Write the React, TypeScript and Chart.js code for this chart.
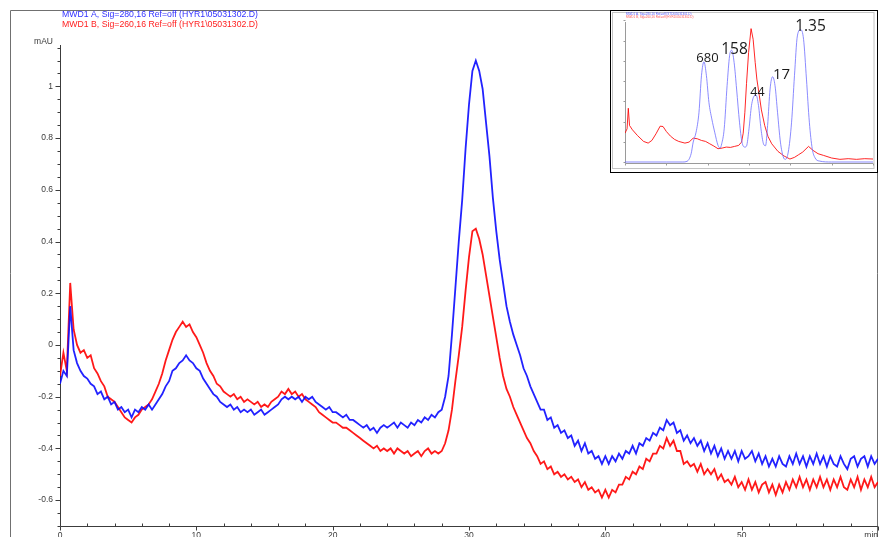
import React, { useEffect, useRef } from "react";
import { Chart, registerables } from "chart.js";

Chart.register(...registerables);

// ---------- main chromatogram data (sampled every 0.25 min, 0..60 min) ----------
const sampleStep = 0.25;

// MWD1 A, 280 nm (blue)
const signalA280 = [
  -0.15, -0.10, -0.12, 0.15, -0.02, -0.07, -0.10, -0.12, -0.13, -0.15,
  -0.16, -0.19, -0.18, -0.21, -0.20, -0.23, -0.22, -0.25, -0.24, -0.26,
  -0.25, -0.28, -0.25, -0.26, -0.24, -0.25, -0.23, -0.25, -0.23, -0.21,
  -0.19, -0.16, -0.14, -0.10, -0.09, -0.07, -0.06, -0.04, -0.06, -0.07,
  -0.09, -0.10, -0.13, -0.15, -0.17, -0.19, -0.20, -0.22, -0.23, -0.24,
  -0.23, -0.25, -0.24, -0.26, -0.25, -0.26, -0.25, -0.27, -0.26, -0.25,
  -0.27, -0.26, -0.25, -0.24, -0.23, -0.21, -0.20, -0.21, -0.20, -0.21,
  -0.20, -0.22, -0.20, -0.21, -0.20, -0.22, -0.23, -0.24, -0.25, -0.24,
  -0.26, -0.26, -0.27, -0.28, -0.27, -0.29, -0.29, -0.30, -0.31, -0.32,
  -0.31, -0.33, -0.32, -0.34, -0.32, -0.31, -0.32, -0.31, -0.30, -0.32,
  -0.30, -0.31, -0.32, -0.30, -0.31, -0.29, -0.30, -0.28, -0.29, -0.27,
  -0.28, -0.26, -0.25, -0.20, -0.12, 0.04, 0.22, 0.40, 0.56, 0.76,
  0.93, 1.06, 1.10, 1.06, 0.99, 0.86, 0.73, 0.57, 0.44, 0.33,
  0.24, 0.15, 0.09, 0.04, 0.00, -0.04, -0.09, -0.12, -0.16, -0.19,
  -0.22, -0.25, -0.25, -0.29, -0.28, -0.32, -0.31, -0.34, -0.33, -0.36,
  -0.35, -0.39, -0.37, -0.41, -0.38, -0.42, -0.41, -0.44, -0.43, -0.46,
  -0.43, -0.46, -0.43, -0.45, -0.42, -0.44, -0.41, -0.42, -0.39, -0.42,
  -0.38, -0.39, -0.36, -0.37, -0.34, -0.35, -0.32, -0.33, -0.29, -0.31,
  -0.30, -0.34, -0.33, -0.37, -0.35, -0.38, -0.36, -0.39, -0.37, -0.41,
  -0.38, -0.42, -0.39, -0.43, -0.40, -0.44, -0.41, -0.44, -0.41, -0.45,
  -0.41, -0.44, -0.43, -0.41, -0.45, -0.42, -0.46, -0.43, -0.47, -0.44,
  -0.47, -0.43, -0.46, -0.47, -0.43, -0.46, -0.42, -0.46, -0.43, -0.47,
  -0.43, -0.46, -0.42, -0.46, -0.43, -0.47, -0.43, -0.46, -0.47, -0.43,
  -0.46, -0.48, -0.44, -0.43, -0.47, -0.44, -0.43, -0.47, -0.43, -0.46,
  -0.44,
];

// MWD1 B, 260 nm (red)
const signalB260 = [
  -0.12, -0.03, -0.10, 0.24, 0.06, 0.00, -0.03, -0.02, -0.05, -0.04,
  -0.09, -0.11, -0.14, -0.16, -0.20, -0.21, -0.22, -0.24, -0.26, -0.28,
  -0.29, -0.30, -0.28, -0.27, -0.25, -0.24, -0.23, -0.21, -0.18, -0.15,
  -0.11, -0.06, -0.02, 0.02, 0.05, 0.07, 0.09, 0.07, 0.08, 0.05,
  0.03, 0.00, -0.03, -0.07, -0.10, -0.12, -0.15, -0.16, -0.18, -0.19,
  -0.20, -0.19, -0.21, -0.20, -0.22, -0.21, -0.22, -0.23, -0.22, -0.24,
  -0.23, -0.24, -0.22, -0.21, -0.20, -0.18, -0.19, -0.17, -0.19, -0.18,
  -0.20, -0.19, -0.21, -0.22, -0.23, -0.24, -0.26, -0.27, -0.28, -0.29,
  -0.30, -0.30, -0.31, -0.32, -0.32, -0.33, -0.34, -0.35, -0.36, -0.37,
  -0.38, -0.39, -0.40, -0.39, -0.41, -0.40, -0.41, -0.40, -0.42, -0.40,
  -0.41, -0.42, -0.41, -0.43, -0.42, -0.41, -0.43, -0.41, -0.40, -0.42,
  -0.41, -0.42, -0.41, -0.38, -0.33, -0.25, -0.14, -0.04, 0.07, 0.21,
  0.34, 0.44, 0.45, 0.41, 0.35, 0.27, 0.19, 0.11, 0.03, -0.05,
  -0.12, -0.17, -0.20, -0.24, -0.27, -0.30, -0.33, -0.36, -0.38, -0.41,
  -0.43, -0.46, -0.45, -0.48, -0.47, -0.50, -0.49, -0.51, -0.50, -0.52,
  -0.51, -0.53, -0.52, -0.55, -0.53, -0.56, -0.55, -0.57, -0.56, -0.59,
  -0.56, -0.59, -0.56, -0.57, -0.54, -0.54, -0.51, -0.52, -0.49, -0.50,
  -0.47, -0.48, -0.44, -0.45, -0.42, -0.42, -0.39, -0.40, -0.36, -0.39,
  -0.37, -0.41, -0.41, -0.46, -0.45, -0.47, -0.46, -0.49, -0.46, -0.50,
  -0.48, -0.50, -0.48, -0.52, -0.50, -0.53, -0.52, -0.54, -0.51, -0.55,
  -0.53, -0.56, -0.52, -0.56, -0.53, -0.57, -0.54, -0.53, -0.57, -0.54,
  -0.58, -0.54, -0.57, -0.53, -0.56, -0.52, -0.55, -0.51, -0.55, -0.52,
  -0.56, -0.52, -0.55, -0.51, -0.55, -0.52, -0.56, -0.52, -0.55, -0.51,
  -0.55, -0.56, -0.52, -0.55, -0.51, -0.56, -0.52, -0.55, -0.51, -0.55,
  -0.53,
];

const legendA = "MWD1 A, Sig=280,16 Ref=off (HYR1\\05031302.D)";
const legendB = "MWD1 B, Sig=260,16 Ref=off (HYR1\\05031302.D)";
const yAxisTitle = "mAU";
const xAxisTitle = "min";
const yTickValues = [-0.6, -0.4, -0.2, 0, 0.2, 0.4, 0.6, 0.8, 1];
const yTickLabels = ["-0.6", "-0.4", "-0.2", "0", "0.2", "0.4", "0.6", "0.8", "1"];
const xTickValues = [0, 10, 20, 30, 40, 50];
const xTickLabels = ["0", "10", "20", "30", "40", "50"];

// ---------- inset (calibration standards vs sample) ----------
const insetStdMinutes = [
  0, 10, 14, 15, 16, 16.5, 17.2, 17.9, 18.5, 19.1, 19.7, 20.3, 21, 21.7, 22.5, 23,
  23.4, 24, 24.7, 25.3, 25.8, 26.4, 27, 27.7, 28.3, 29, 29.4,
  30, 30.6, 31.3, 31.7, 32.3, 32.9, 33.5, 34,
  34.5, 35.1, 35.7, 36.3, 36.9, 37.6, 38.3, 38.8,
  39.5, 40.3, 41, 41.7, 42.5, 43.2, 43.9, 44.6, 45.3, 46, 47, 50, 60,
];
const insetStdValues = [
  0, 0, 0, 2, 25, 60, 90, 150, 260, 302, 260, 180, 130, 90, 50, 42,
  55, 100, 230, 320, 337, 300, 220, 120, 60, 45, 48,
  100, 170, 200, 202, 170, 100, 55, 49,
  110, 220, 257, 230, 150, 60, 15, 8,
  30, 120, 260, 380, 399, 370, 250, 120, 40, 12, 3, 0, 0,
];
const insetSampleMinutes = [
  0, 0.5, 0.8, 1.1, 1.8, 3, 4.5, 5.6, 6.5, 7.5, 8.5, 9.2, 10, 11, 12, 13, 14.5, 15.5,
  16.5, 17.5, 18.5, 19.5, 20.5, 21.5, 22.5, 23.5, 24.5, 25.5, 26.5, 27.5, 28.2, 28.6,
  29, 29.4, 29.9, 30.5, 31, 31.5, 31.9, 32.5, 33, 33.8, 34.6, 35.5, 37, 38.5, 39.9,
  41, 42, 43, 44.4, 45.5, 46.7, 48, 50, 52, 54, 56, 58, 60,
];
const insetSampleValues = [
  87, 100, 162, 110, 97, 80, 62, 57, 65, 85, 108, 107, 92, 78, 68, 62, 57, 60,
  72, 70, 65, 62, 55, 48, 40, 42, 45, 44, 47, 50, 60, 87,
  150, 237, 330, 402, 370, 300, 250, 200, 157, 110, 77, 55, 32, 18, 9,
  14, 22, 30, 47, 35, 25, 20, 12, 8, 10, 8, 10, 9,
];
const insetPeakLabels = ["680", "158", "44", "17", "1.35"];
const insetLegendA = "MWD1 A, Sig=280,16 Ref=off (STD\\05031301.D)";
const insetLegendB = "MWD1 B, Sig=260,16 Ref=off (HYR1\\05031302.D)";

const FONT = '"Liberation Sans", Arial, sans-serif';

const mainPlugin = {
  id: "chemstationAxes",
  beforeDatasetsDraw(chart: any) {
    const ctx = chart.ctx;
    const { left, right, top, bottom } = chart.chartArea;
    const xs = chart.scales.x;
    const ys = chart.scales.y;
    ctx.save();
    // outer frame
    ctx.strokeStyle = "#707070";
    ctx.lineWidth = 1;
    ctx.beginPath();
    ctx.moveTo(10.5, 537);
    ctx.lineTo(10.5, 10.5);
    ctx.lineTo(877.5, 10.5);
    ctx.lineTo(877.5, 537);
    ctx.stroke();

    // axes
    ctx.strokeStyle = "#3c3c3c";
    ctx.beginPath();
    ctx.moveTo(left + 0.5, top);
    ctx.lineTo(left + 0.5, bottom + 0.5);
    ctx.lineTo(right, bottom + 0.5);
    ctx.stroke();

    // y ticks: minor every 0.05, major every 0.2
    ctx.beginPath();
    for (let k = -14; k <= 23; k++) {
      const v = k * 0.05;
      const py = Math.round(ys.getPixelForValue(v)) + 0.5;
      const len = k % 4 === 0 ? 5 : 3;
      ctx.moveTo(left + 0.5, py);
      ctx.lineTo(left + 0.5 - len, py);
    }
    // x ticks: minor every 2 min (inward), major every 10 (outward)
    for (let k = 0; k <= 30; k++) {
      const px = Math.round(xs.getPixelForValue(k * 2)) + 0.5;
      if (k % 5 === 0) {
        ctx.moveTo(px, bottom + 0.5);
        ctx.lineTo(px, bottom + 4.5);
      } else {
        ctx.moveTo(px, bottom + 0.5);
        ctx.lineTo(px, bottom - 2.5);
      }
    }
    ctx.stroke();

    // tick labels
    ctx.fillStyle = "#3a3a3a";
    ctx.font = `8.5px ${FONT}`;
    ctx.textAlign = "right";
    ctx.textBaseline = "middle";
    yTickValues.forEach((v, i) => {
      ctx.fillText(yTickLabels[i], left - 7, ys.getPixelForValue(v));
    });
    ctx.fillText(yAxisTitle, left - 7, 42);
    ctx.textAlign = "center";
    ctx.textBaseline = "top";
    xTickValues.forEach((v, i) => {
      ctx.fillText(xTickLabels[i], xs.getPixelForValue(v), bottom + 5);
    });
    ctx.textAlign = "right";
    ctx.fillText(xAxisTitle, 878, bottom + 5);

    // signal legend
    ctx.textAlign = "left";
    ctx.textBaseline = "middle";
    const drawFitted = (txt: string, x: number, y: number, w: number, color: string) => {
      ctx.save();
      ctx.fillStyle = color;
      const m = ctx.measureText(txt).width;
      ctx.translate(x, y);
      ctx.scale(w / m, 1);
      ctx.fillText(txt, 0, 0);
      ctx.restore();
    };
    drawFitted(legendA, 62, 14.5, 196, "#3030ff");
    drawFitted(legendB, 62, 24.5, 196, "#ff2020");
    ctx.restore();
  },
};

const insetPlugin = {
  id: "insetDecor",
  beforeDatasetsDraw(chart: any) {
    const ctx = chart.ctx;
    const { left, right, top, bottom } = chart.chartArea;
    const xs = chart.scales.x;
    const ys = chart.scales.y;
    ctx.save();
    ctx.strokeStyle = "#c4c4c4";
    ctx.lineWidth = 1;
    ctx.strokeRect(1.5, 1.5, right - 0.5, chart.height - 5);
    ctx.strokeStyle = "#9a9a9a";
    ctx.beginPath();
    ctx.moveTo(left + 0.5, top);
    ctx.lineTo(left + 0.5, bottom + 0.5);
    ctx.lineTo(right, bottom + 0.5);
    for (let k = 0; k <= 6; k++) {
      const px = Math.round(xs.getPixelForValue(k * 10)) + 0.5;
      ctx.moveTo(px, bottom + 0.5);
      ctx.lineTo(px, bottom + 2.5);
    }
    for (let k = 0; k <= 7; k++) {
      const py = Math.round(ys.getPixelForValue(k * 61)) + 0.5;
      ctx.moveTo(left + 0.5, py);
      ctx.lineTo(left - 1.5, py);
    }
    ctx.stroke();
    ctx.font = `3px ${FONT}`;
    ctx.textBaseline = "middle";
    ctx.textAlign = "left";
    ctx.fillStyle = "#5555ff";
    ctx.fillText(insetLegendA, 15, 3.5);
    ctx.fillStyle = "#ff5555";
    ctx.fillText(insetLegendB, 15, 6.5);
    ctx.restore();
  },
  afterDatasetsDraw(chart: any) {
    const ctx = chart.ctx;
    ctx.save();
    ctx.fillStyle = "#1a1a1a";
    ctx.textAlign = "center";
    ctx.textBaseline = "alphabetic";
    const specs: [number, number, number][] = [
      [96.5, 51, 13],
      [123.5, 43, 15.5],
      [146.5, 85, 12.5],
      [170.5, 67.5, 15],
      [199.5, 20, 15.5],
    ];
    insetPeakLabels.forEach((lab, i) => {
      const [x, y, size] = specs[i];
      ctx.font = `${size}px "Open Sans", "DejaVu Sans", sans-serif`;
      ctx.fillText(lab, x, y);
    });
    ctx.restore();
  },
};

export default function App() {
  const mainRef = useRef<HTMLCanvasElement | null>(null);
  const insetRef = useRef<HTMLCanvasElement | null>(null);

  useEffect(() => {
    if (!mainRef.current || !insetRef.current) return;
    const ptsA = signalA280.map((v, i) => ({ x: i * sampleStep, y: v }));
    const ptsB = signalB260.map((v, i) => ({ x: i * sampleStep, y: v }));
    const main = new Chart(mainRef.current, {
      type: "line",
      data: {
        datasets: [
          {
            label: legendA,
            data: ptsA,
            borderColor: "rgba(10,10,255,0.9)",
            borderWidth: 1.8,
            pointRadius: 0,
            tension: 0,
          },
          {
            label: legendB,
            data: ptsB,
            borderColor: "rgba(255,0,0,0.9)",
            borderWidth: 1.8,
            pointRadius: 0,
            tension: 0,
          },
        ],
      },
      options: {
        animation: false,
        responsive: false,
        devicePixelRatio: 1,
        layout: { padding: { left: 60, right: 2, top: 45, bottom: 11 } },
        plugins: { legend: { display: false }, tooltip: { enabled: false } },
        scales: {
          x: { type: "linear", min: 0, max: 60, display: false },
          y: { type: "linear", min: -0.7, max: 1.16, display: false },
        },
      },
      plugins: [mainPlugin],
    } as any);

    const inset = new Chart(insetRef.current, {
      type: "line",
      data: {
        datasets: [
          {
            label: "standards",
            data: insetStdMinutes.map((t, i) => ({ x: t, y: insetStdValues[i] })),
            borderColor: "rgba(110,110,255,0.8)",
            borderWidth: 1,
            pointRadius: 0,
            cubicInterpolationMode: "monotone",
          },
          {
            label: "sample",
            data: insetSampleMinutes.map((t, i) => ({ x: t, y: insetSampleValues[i] })),
            borderColor: "rgba(255,0,0,0.85)",
            borderWidth: 1,
            pointRadius: 0,
            tension: 0,
          },
        ],
      },
      options: {
        animation: false,
        responsive: false,
        devicePixelRatio: 1,
        layout: { padding: { left: 14, right: 4, top: 11, bottom: 9 } },
        plugins: { legend: { display: false }, tooltip: { enabled: false } },
        scales: {
          x: { type: "linear", min: 0, max: 60, display: false },
          y: { type: "linear", min: -3, max: 422, display: false },
        },
      },
      plugins: [insetPlugin],
    } as any);

    return () => {
      main.destroy();
      inset.destroy();
    };
  }, []);

  return (
    <div style={{ position: "absolute", left: 0, top: 0, width: 880, height: 537, background: "#fff", overflow: "hidden" }}>
      <canvas ref={mainRef} width={880} height={537} style={{ position: "absolute", left: 0, top: 0, width: 880, height: 537 }} />
      <div
        style={{
          position: "absolute",
          left: 610,
          top: 10,
          width: 266,
          height: 161,
          border: "1px solid #000",
          background: "#fff",
        }}
      >
        <canvas ref={insetRef} width={266} height={161} style={{ display: "block", width: 266, height: 161 }} />
      </div>
    </div>
  );
}
